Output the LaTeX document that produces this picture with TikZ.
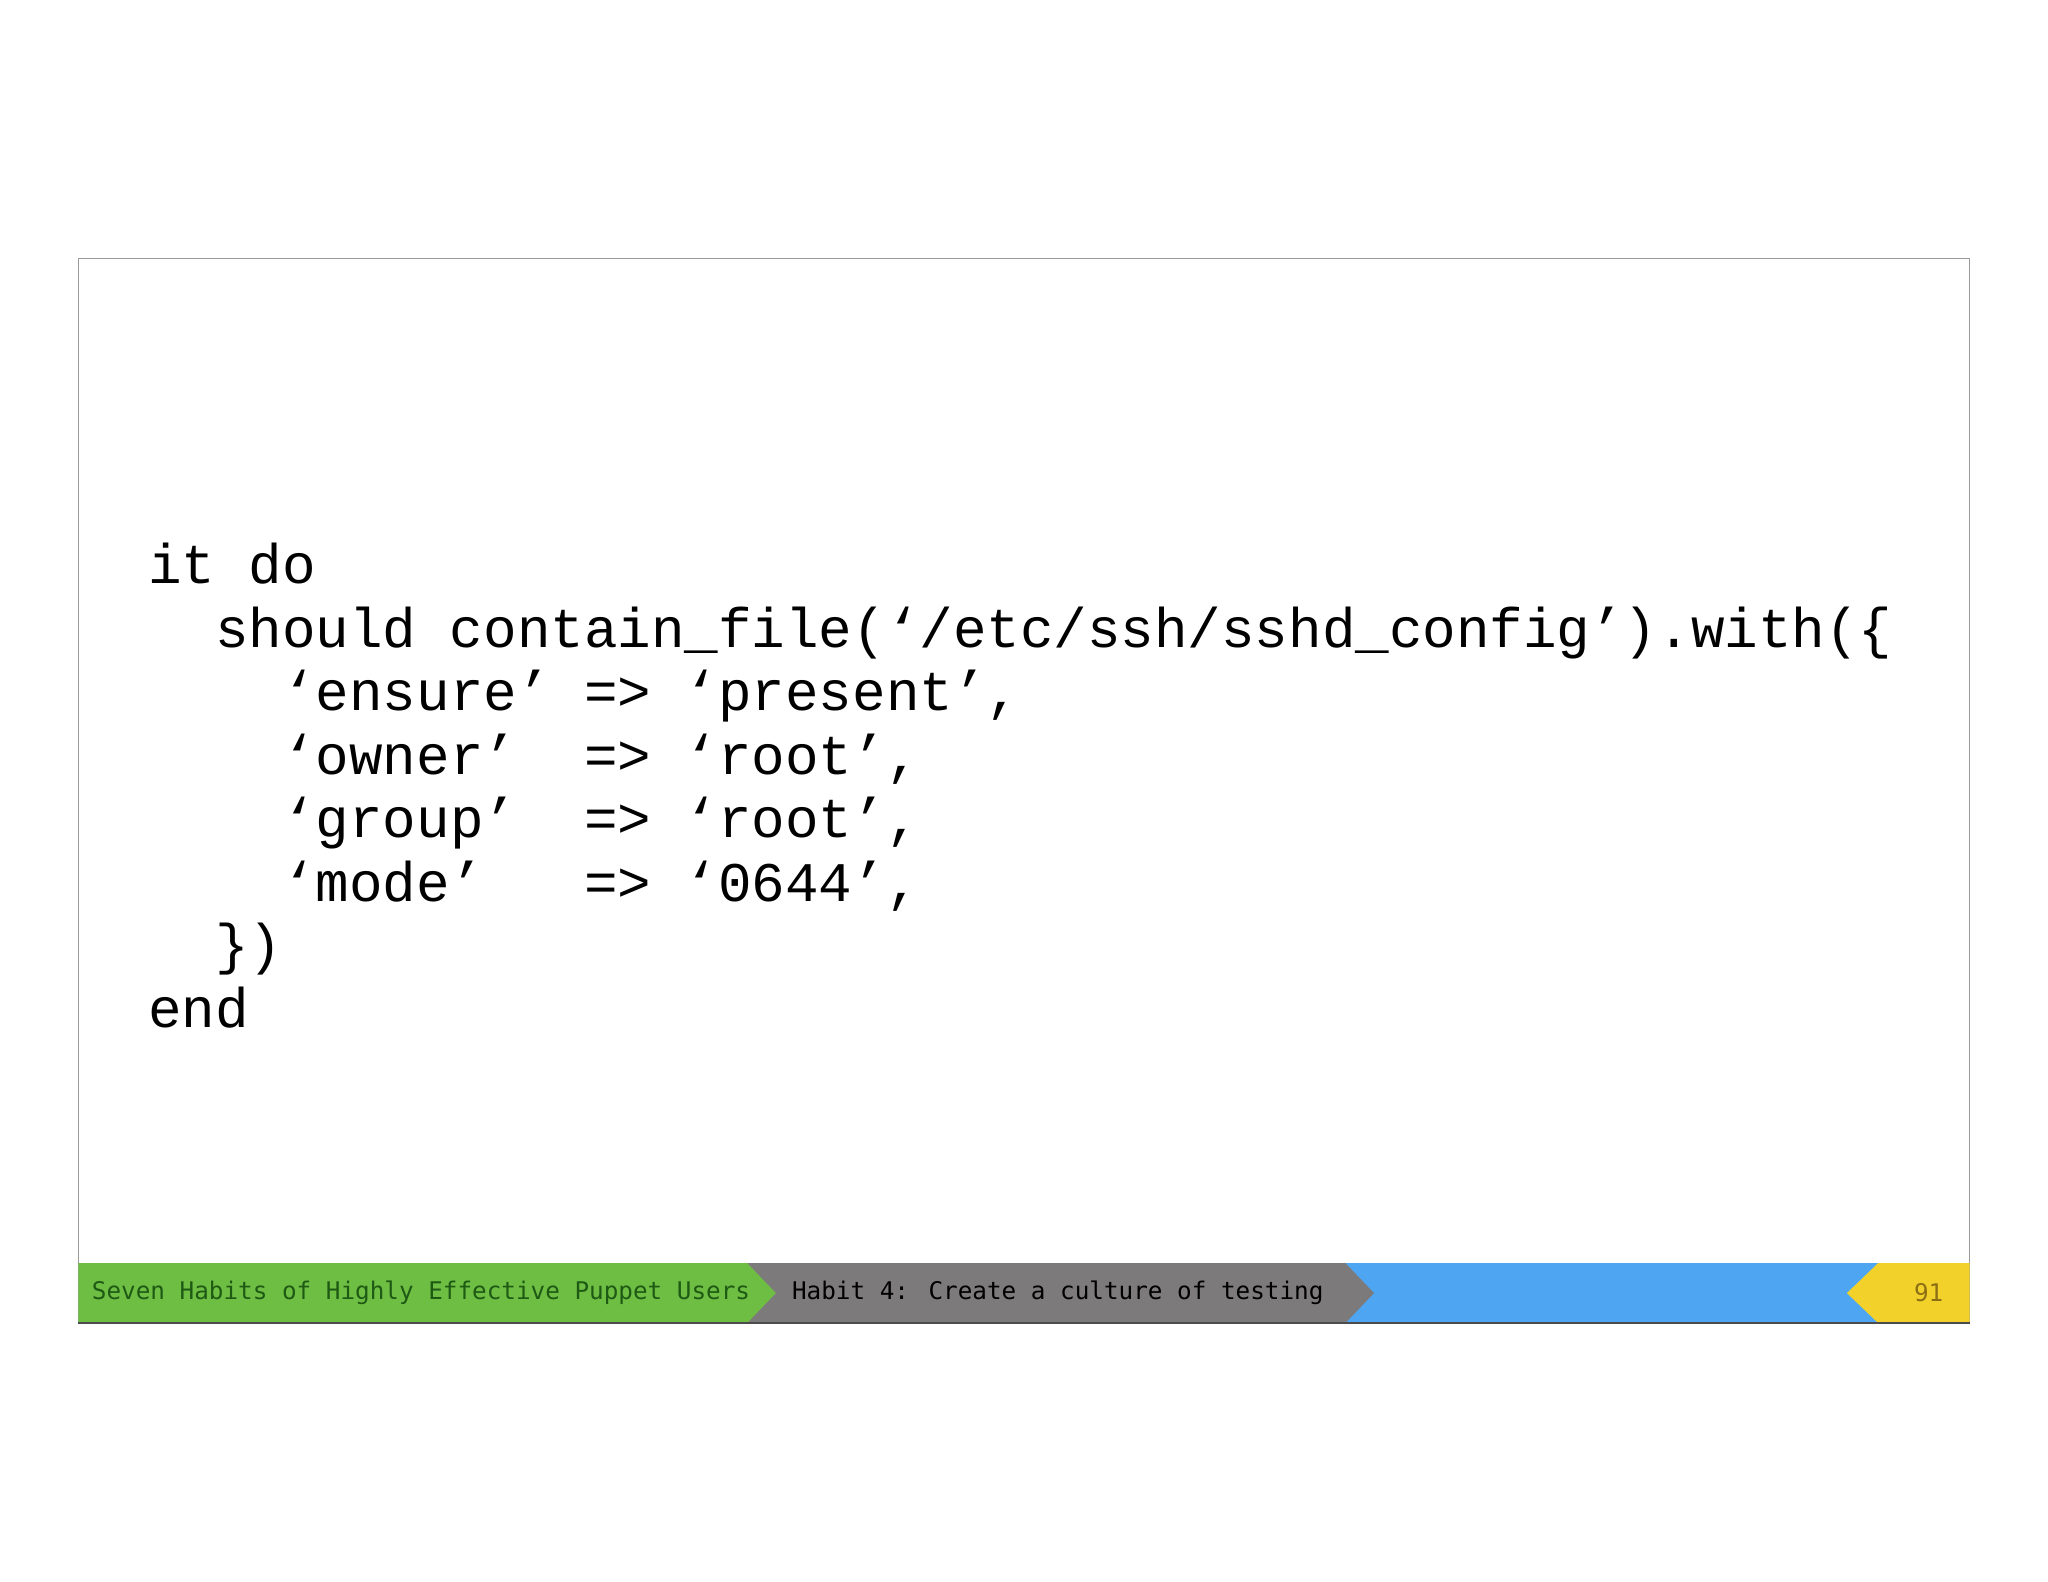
\documentclass[tikz,border=0pt]{standalone}
\usepackage{fontspec}
\setmainfont{Liberation Mono}
\newfontfamily\footfont{DejaVu Sans Mono}
\definecolor{fblue}{RGB}{78,166,243}
\definecolor{fyellow}{RGB}{242,210,42}
\definecolor{fgray}{RGB}{124,122,122}
\definecolor{fgreen}{RGB}{111,190,68}
\definecolor{tgreen}{RGB}{30,90,20}
\definecolor{tyellow}{RGB}{140,110,20}
\begin{document}
\begin{tikzpicture}[x=0.5pt,y=-0.5pt,
  codeline/.style={anchor=base west,inner sep=0pt,font=\fontsize{21.4}{24}\selectfont},
  foot/.style={anchor=west,inner sep=0pt,font=\footfont\fontsize{9.3}{10}\selectfont}]
\useasboundingbox (0,0) rectangle (1568,1211);
\fill[white] (0,0) rectangle (1568,1211);
\draw[gray!80,line width=0.6pt] (60,198) rectangle (1508,1013);
% footer
\fill[fblue] (1020,967) -- (1438,967) -- (1438,1013) -- (1020,1013) -- cycle;
\fill[fyellow] (1438,967) -- (1508,967) -- (1508,1013) -- (1438,1013) -- (1414,990) -- cycle;
\fill[fgray] (572,967) -- (1030,967) -- (1052,990) -- (1030,1013) -- (572,1013) -- cycle;
\fill[fgreen] (60,967) -- (572,967) -- (594,990) -- (572,1013) -- (60,1013) -- cycle;
\draw[gray!60!black,line width=0.6pt] (60,1013) -- (1508,1013);
\node[foot,text=tgreen] (t1) at (70,990) {Seven Habits of Highly Effective Puppet Users};
\node[foot,text=black] (t2) at (606,990) {Habit 4: Create a culture of testing};
\node[foot,text=tyellow] (t3) at (1465,990) {91};
% code
\node[codeline] (l1) at (113,447) {it do};
\node[codeline] (l2) at (113,496) {\ \ should contain\_file(‘/etc/ssh/sshd\_config’).with(\{};
\node[codeline] (l3) at (113,544) {\ \ \ \ ‘ensure’ => ‘present’,};
\node[codeline] (l4) at (113,593) {\ \ \ \ ‘owner’\ \ => ‘root’,};
\node[codeline] (l5) at (113,641) {\ \ \ \ ‘group’\ \ => ‘root’,};
\node[codeline] (l6) at (113,690) {\ \ \ \ ‘mode’\ \ \ => ‘0644’,};
\node[codeline] (l7) at (113,738) {\ \ \})};
\node[codeline] (l8) at (113,787) {end};
\end{tikzpicture}
\end{document}
